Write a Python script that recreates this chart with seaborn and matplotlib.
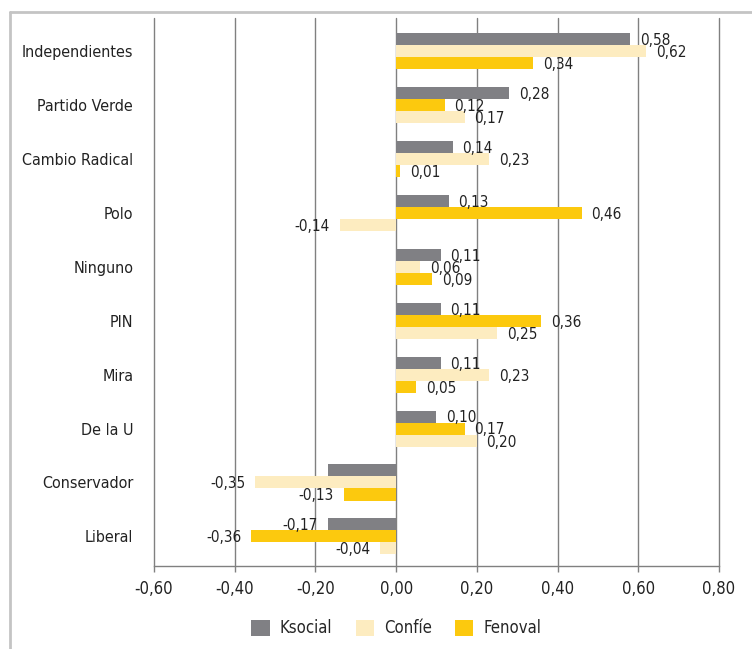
import pandas as pd
import seaborn as sns
import matplotlib.pyplot as plt
from matplotlib.lines import Line2D
from matplotlib.patches import Patch

sns.set_theme(style='white')
plt.rcParams['font.family'] = ['DejaVu Sans']
plt.rcParams['font.stretch'] = 'condensed'

partidos = ['Independientes', 'Partido Verde', 'Cambio Radical', 'Polo', 'Ninguno',
            'PIN', 'Mira', 'De la U', 'Conservador', 'Liberal']
ksocial = [0.58, 0.28, 0.14, 0.13, 0.11, 0.11, 0.11, 0.10, -0.17, -0.17]
confie = [0.62, 0.17, 0.23, -0.14, 0.06, 0.25, 0.23, 0.20, -0.35, -0.04]
fenoval = [0.34, 0.12, 0.01, 0.46, 0.09, 0.36, 0.05, 0.17, -0.13, -0.36]
# orden de las barras dentro de cada grupo (de arriba hacia abajo)
orden = [['Ksocial', 'Confíe', 'Fenoval'], ['Ksocial', 'Fenoval', 'Confíe']] * 5
series = ['Ksocial', 'Confíe', 'Fenoval']
colores = {'Ksocial': '#808084', 'Confíe': '#FDECC0', 'Fenoval': '#FCC90E'}
xticks = [-0.6, -0.4, -0.2, 0.0, 0.2, 0.4, 0.6, 0.8]

valores = {'Ksocial': ksocial, 'Confíe': confie, 'Fenoval': fenoval}
filas = []
for i, p in enumerate(partidos):
    for pos, s in enumerate(orden[i]):
        filas.append({'partido': p, 'serie': s, 'valor': valores[s][i], 'pos': pos})
df = pd.DataFrame(filas)

fig = plt.figure(figsize=(7.52, 6.49), dpi=100)
ax = fig.add_axes([0.2048, 0.1279, 0.7513, 0.8444])

sns.barplot(data=df, x='valor', y='partido', hue='pos', order=partidos,
            orient='h', width=0.67, dodge=True, legend=False, ax=ax)

for pos, cont in enumerate(ax.containers):
    for i, barra in enumerate(cont):
        s = orden[i][pos]
        barra.set_facecolor(colores[s])
        barra.set_edgecolor('none')
        v = valores[s][i]
        if partidos[i] == 'Conservador' and s == 'Ksocial':
            continue  # etiqueta ausente en el original
        cy = barra.get_y() + barra.get_height() / 2
        txt = f'{v:.2f}'.replace('.', ',')
        if v >= 0:
            ax.annotate(txt, (v, cy), xytext=(7, -1), textcoords='offset points',
                        ha='left', va='center', fontsize=11, color='#222222')
        else:
            ax.annotate(txt, (v, cy), xytext=(-7, -1), textcoords='offset points',
                        ha='right', va='center', fontsize=11, color='#222222')

ax.set_xlim(-0.6, 0.8)
ax.set_ylim(9.55, -0.62)
ax.set_xticks(xticks)
ax.set_xticklabels([f'{t:.2f}'.replace('.', ',') for t in xticks], fontsize=12, color='#222222')
ax.tick_params(axis='y', length=0, pad=15, labelsize=11.5, labelcolor='#222222')
ax.tick_params(axis='x', length=4, width=1, color='#808080', direction='out', pad=6, bottom=True)
ax.set_xlabel('')
ax.set_ylabel('')
ax.grid(axis='x', color='#808080', linewidth=1)
for g in ax.get_xgridlines():
    g.set_clip_on(False)
ax.set_axisbelow(True)
for lado in ['top', 'right', 'left']:
    ax.spines[lado].set_visible(False)
ax.spines['bottom'].set_color('#808080')
ax.spines['bottom'].set_linewidth(1)

# marco exterior
fig.add_artist(Line2D([0.0133, 1.0], [0.9815, 0.9815], color='#C4C4C4', linewidth=2))
fig.add_artist(Line2D([0.0133, 0.0133], [0.0, 0.9815], color='#C4C4C4', linewidth=2))

handles = [Patch(facecolor=colores[s], edgecolor='none') for s in series]
fig.legend(handles, series, loc='center', bbox_to_anchor=(0.527, 0.032), ncol=3,
           frameon=False, fontsize=12, handlelength=1.1, handleheight=1.1,
           handletextpad=0.6, columnspacing=1.4)

plt.savefig('out.png', dpi=100)
